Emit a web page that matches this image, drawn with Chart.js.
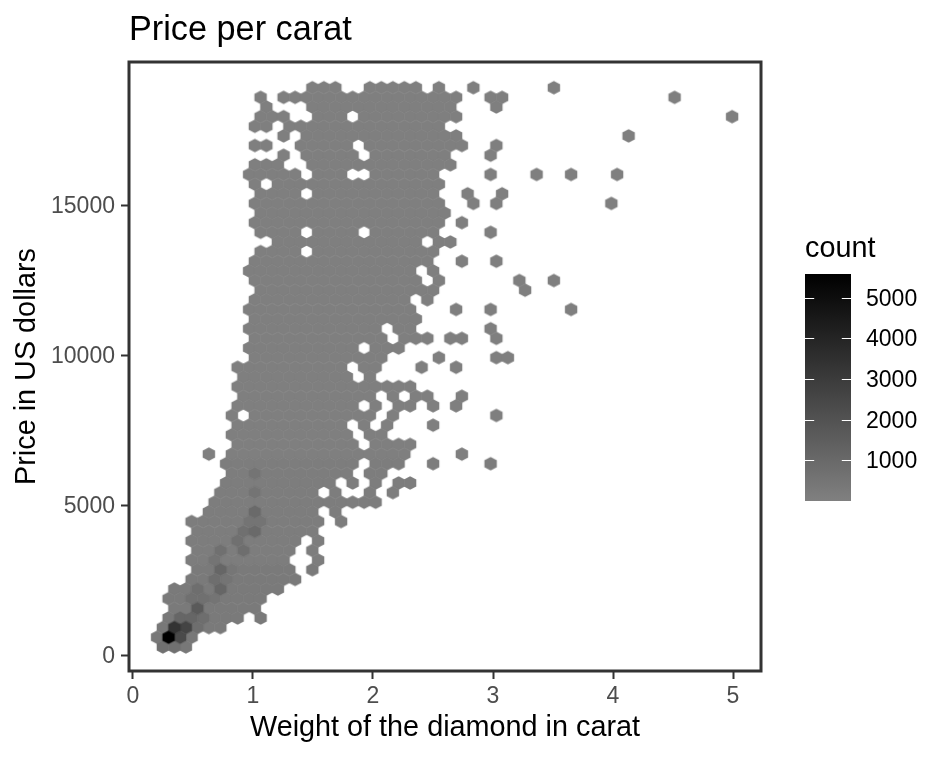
<!DOCTYPE html>
<html>
<head>
<meta charset="utf-8">
<style>html,body{margin:0;padding:0;background:#fff}canvas{display:block}</style>
<script src="https://cdn.jsdelivr.net/npm/chart.js@4/dist/chart.umd.min.js"></script>
</head>
<body>
<canvas id="c" width="947" height="757"></canvas>
<script>
const titleText = "Price per carat";
const xTitle = "Weight of the diamond in carat";
const yTitle = "Price in US dollars";
const legendTitle = "count";
const xTicks = [0, 1, 2, 3, 4, 5];
const yTicks = [0, 5000, 10000, 15000];
const legendTicks = [1000, 2000, 3000, 4000, 5000];
const legendMin = 0, legendMax = 5585;

// Hex bin rows, top to bottom: price at the centre of each row
const rowPrices = [18910,18589,18267,17946,17625,17303,16982,16660,16339,16018,15696,15375,15054,14732,14411,14090,13768,13447,13126,12804,12483,12161,11840,11519,11197,10876,10555,10233,9912,9591,9269,8948,8626,8305,7984,7662,7341,7020,6698,6377,6056,5734,5413,5092,4770,4449,4127,3806,3485,3163,2842,2521,2199,1878,1557,1235,914,592,271];
// Occupied hex columns in each row, as [from, to] runs (columns in half-bin steps)
const rowRuns = [
[[12,16],[22,30],[34,34],[40,40],[54,54]],
[[3,3],[7,37],[43,45],[75,75]],
[[4,4],[12,36],[44,44]],
[[3,7],[13,17],[21,37],[85,85]],
[[2,4],[8,34]],
[[7,7],[11,37],[67,67]],
[[2,4],[10,18],[22,38],[44,44]],
[[7,7],[11,19],[23,35],[43,43]],
[[2,6],[12,36]],
[[1,9],[13,17],[23,33],[43,43],[51,51],[57,57],[65,65]],
[[2,2],[6,34]],
[[3,9],[13,33],[39,39],[45,45]],
[[2,34],[40,40],[44,44],[64,64]],
[[3,35]],
[[2,34],[38,38]],
[[3,9],[13,19],[23,33],[43,43]],
[[6,30],[34,36]],
[[3,9],[13,33]],
[[2,32],[38,38],[44,44]],
[[1,29],[33,33]],
[[2,30],[34,34],[48,48],[54,54]],
[[3,33],[49,49]],
[[2,28],[32,32]],
[[1,29],[37,37],[43,43],[57,57]],
[[2,30]],
[[1,23],[27,29],[43,43]],
[[2,24],[28,32],[36,38],[44,44]],
[[1,19],[23,27]],
[[2,24],[34,34],[44,46]],
[[-1,17],[21,23],[31,31],[37,37]],
[[0,18],[22,22]],
[[-1,29]],
[[0,22],[26,26],[30,32],[38,38]],
[[-1,19],[23,23],[27,29],[33,33],[37,37]],
[[-2,-2],[2,22],[26,26],[44,44]],
[[-1,17],[21,21],[25,25],[33,33]],
[[-2,18],[22,24]],
[[-1,19],[23,29]],
[[-6,-6],[-2,28],[38,38]],
[[-3,19],[23,27],[33,33],[43,43]],
[[-2,18],[22,24]],
[[-3,15],[19,19],[23,23],[27,29]],
[[-4,12],[16,16],[22,22],[26,26]],
[[-5,23]],
[[-6,12],[16,16]],
[[-9,13],[17,17]],
[[-8,12]],
[[-9,9],[13,13]],
[[-8,8],[12,12]],
[[-9,7],[13,13]],
[[-8,8],[12,12]],
[[-9,9]],
[[-12,6]],
[[-13,3]],
[[-12,2]],
[[-13,-1],[3,3]],
[[-14,-4]],
[[-15,-9]],
[[-14,-10]]
];
const carat0 = 0.9194, caratStep = 0.04792;
const sparseCount = 30, bodyCount = 110, lowCount = 230;
// Cells visibly darker than the body: row, column, count
const denseRows = [57,56,56,57,54,55,55,53,53,52,51,50,52,55,56,57,57,58,58,58,56,55,53,48,46,46,47,44,45,45,42,40,48,49,51,50];
const denseCols = [-13,-12,-10,-11,-8,-11,-9,-7,-9,-4,-5,-4,-8,-7,-8,-9,-15,-14,-12,-10,-14,-13,-5,0,2,0,-1,2,3,1,2,2,-4,-5,-3,-2];
const denseCounts = [5580,3360,2610,2350,1650,1120,1120,680,680,1120,770,1120,770,770,770,330,330,680,680,330,330,330,505,770,944,680,680,944,505,505,505,505,680,505,505,420];

const cells = [];
rowRuns.forEach((runs, r) => {
  runs.forEach(([a, b]) => {
    for (let h = a; h <= b; h += 2) {
      const i = denseRows.findIndex((dr, k) => dr === r && denseCols[k] === h);
      cells.push({
        x: carat0 + caratStep * h,
        y: rowPrices[r],
        count: i >= 0 ? denseCounts[i] : (r >= 50 ? lowCount : r >= 39 ? bodyCount : sparseCount)
      });
    }
  });
});
// Darker cells are drawn last so their neighbours do not cover their edges
cells.sort((p, q) => p.count - q.count);

const hexCache = {};
function hexFor(count) {
  const g = Math.round(127.5 * (1 - count / 5600));
  if (hexCache[g]) return hexCache[g];
  const cv = document.createElement('canvas');
  cv.width = 18; cv.height = 18;
  const c = cv.getContext('2d');
  c.fillStyle = `rgb(${g},${g},${g})`;
  c.beginPath();
  [[0,-6.8],[6.2,-3.4],[6.2,3.4],[0,6.8],[-6.2,3.4],[-6.2,-3.4]].forEach(([dx,dy],i)=>{
    i ? c.lineTo(9+dx,9+dy) : c.moveTo(9+dx,9+dy);
  });
  c.closePath(); c.fill();
  hexCache[g] = cv;
  return cv;
}

const FONT = '"Liberation Sans", Arial, sans-serif';

// Nudge tick labels down to sit where the reference has them
function shiftLabels(scale, dy) {
  if (scale._shifted) return;
  scale._shifted = true;
  const orig = scale.drawLabels;
  scale.drawLabels = function (area) {
    this.ctx.save();
    this.ctx.translate(0, dy);
    orig.call(this, area);
    this.ctx.restore();
  };
}

const framePlugin = {
  id: 'frame',
  afterDatasetsDraw(chart) {
    const { ctx, chartArea: a } = chart;
    ctx.save();
    ctx.strokeStyle = '#333333';
    ctx.lineWidth = 3;
    ctx.strokeRect(a.left, a.top, a.right - a.left, a.bottom - a.top);
    ctx.restore();
  }
};

const legendPlugin = {
  id: 'colorbar',
  afterDraw(chart) {
    const { ctx } = chart;
    const L = 805, R = 851, T = 274, B = 501;
    const yOf = v => B - (v - legendMin) / (legendMax - legendMin) * (B - T);
    ctx.save();
    const g = ctx.createLinearGradient(0, B, 0, T);
    g.addColorStop(0, '#808080');
    g.addColorStop(1, '#000000');
    ctx.fillStyle = g;
    ctx.fillRect(L, T, R - L, B - T);
    ctx.strokeStyle = '#ffffff';
    ctx.lineWidth = 1;
    ctx.fillStyle = '#000';
    ctx.font = '23.04px ' + FONT;
    ctx.textBaseline = 'middle';
    ctx.textAlign = 'left';
    legendTicks.forEach(v => {
      const y = Math.round(yOf(v)) + 0.5;
      ctx.beginPath();
      ctx.moveTo(L, y); ctx.lineTo(L + 9.2, y);
      ctx.moveTo(R - 9.2, y); ctx.lineTo(R, y);
      ctx.stroke();
      ctx.fillText(String(v), 866, y + 1.5);
    });
    ctx.font = '28.8px ' + FONT;
    ctx.textBaseline = 'alphabetic';
    ctx.fillText(legendTitle, 805, 257);
    ctx.restore();
  }
};

new Chart(document.getElementById('c'), {
  type: 'scatter',
  data: { datasets: [{
    data: cells,
    showLine: false,
    pointRadius: 6,
    pointHoverRadius: 6,
    pointBorderWidth: 0,
    pointStyle: ctx => hexFor(cells[ctx.dataIndex].count)
  }]},
  options: {
    responsive: false,
    animation: false,
    events: [],
    layout: { padding: { left: 0, right: 186, top: 0, bottom: 0 } },
    plugins: {
      legend: { display: false },
      tooltip: { enabled: false },
      title: {
        display: true, text: titleText, align: 'start', fullSize: false,
        color: '#000', font: { family: FONT, size: 34.25, weight: 'normal', lineHeight: 1.2 },
        padding: { top: 10, bottom: 10.9 }
      }
    },
    scales: {
      x: {
        type: 'linear', min: -0.0333, max: 5.2333,
        afterFit: s => { s.height = 86; shiftLabels(s, 1); },
        afterBuildTicks: s => { s.ticks = xTicks.map(v => ({ value: v })); },
        grid: { drawOnChartArea: false, drawTicks: true, tickLength: 8, tickWidth: 2, tickColor: '#333333' },
        border: { display: false },
        ticks: { color: '#4D4D4D', font: { family: FONT, size: 23.04 }, padding: 3, maxRotation: 0, autoSkip: false, callback: v => String(v) },
        title: { display: true, text: xTitle, color: '#000', font: { family: FONT, size: 28.8, lineHeight: 1.2 }, padding: { top: 0, bottom: 11.7 } }
      },
      y: {
        type: 'linear', min: -533, max: 19767,
        afterFit: s => { s.width = 129; shiftLabels(s, 1.5); },
        afterBuildTicks: s => { s.ticks = yTicks.map(v => ({ value: v })); },
        grid: { drawOnChartArea: false, drawTicks: true, tickLength: 8, tickWidth: 2, tickColor: '#333333' },
        border: { display: false },
        ticks: { color: '#4D4D4D', font: { family: FONT, size: 23.04 }, padding: 6, autoSkip: false, callback: v => String(v) },
        title: { display: true, text: yTitle, color: '#000', font: { family: FONT, size: 28.8, lineHeight: 1.2 }, padding: { top: 10, bottom: 0 } }
      }
    }
  },
  plugins: [framePlugin, legendPlugin]
});
</script>
</body>
</html>
